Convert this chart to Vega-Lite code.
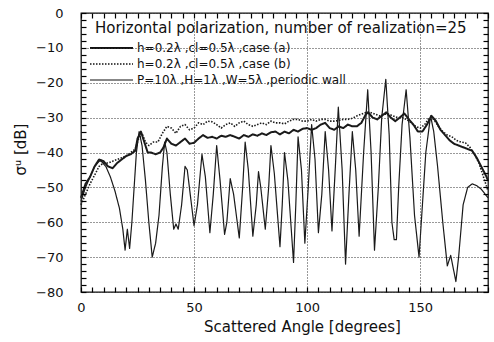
{
"$schema": "https://vega.github.io/schema/vega-lite/v6.json",
"width": 407, "height": 279,
"autosize": "none",
"padding": {"left": 81, "top": 13, "right": 6, "bottom": 50},
"background": "white",
"config": {"font": "DejaVu Sans", "view": {"stroke": "#111", "strokeWidth": 1.3}, "axis": {"ticks": true, "tickColor": "#000", "tickOpacity": 1, "tickWidth": 1.2, "tickSize": 5, "tickCap": "butt"}},
"data": {"values": [
{"x":0,"y":-54,"s":"p"},{"x":2,"y":-50,"s":"p"},{"x":4,"y":-47,"s":"p"},{"x":6,"y":-44,"s":"p"},{"x":8,"y":-42.5,"s":"p"},{"x":9,"y":-42.5,"s":"p"},{"x":11,"y":-44,"s":"p"},{"x":13,"y":-47,"s":"p"},{"x":15,"y":-51,"s":"p"},{"x":17,"y":-56,"s":"p"},{"x":18.5,"y":-62,"s":"p"},{"x":19.5,"y":-68,"s":"p"},{"x":20.5,"y":-62,"s":"p"},{"x":21.5,"y":-67.5,"s":"p"},{"x":22.5,"y":-60,"s":"p"},{"x":23.5,"y":-50,"s":"p"},{"x":24.5,"y":-40,"s":"p"},{"x":25.7,"y":-34,"s":"p"},{"x":27,"y":-38,"s":"p"},{"x":28.5,"y":-48,"s":"p"},{"x":30,"y":-60,"s":"p"},{"x":31.5,"y":-70,"s":"p"},{"x":33,"y":-66,"s":"p"},{"x":34.5,"y":-58,"s":"p"},{"x":36,"y":-44,"s":"p"},{"x":37,"y":-37,"s":"p"},{"x":38,"y":-40,"s":"p"},{"x":39.5,"y":-52,"s":"p"},{"x":41,"y":-62,"s":"p"},{"x":42,"y":-60.5,"s":"p"},{"x":43,"y":-62,"s":"p"},{"x":44.5,"y":-55,"s":"p"},{"x":46,"y":-44,"s":"p"},{"x":47,"y":-45,"s":"p"},{"x":48.5,"y":-53,"s":"p"},{"x":50,"y":-61,"s":"p"},{"x":51.5,"y":-55,"s":"p"},{"x":53.5,"y":-40.5,"s":"p"},{"x":55,"y":-47,"s":"p"},{"x":57,"y":-63,"s":"p"},{"x":58.5,"y":-52,"s":"p"},{"x":60,"y":-38,"s":"p"},{"x":61.5,"y":-48,"s":"p"},{"x":63.5,"y":-63.5,"s":"p"},{"x":64.5,"y":-60,"s":"p"},{"x":66,"y":-47.5,"s":"p"},{"x":67.5,"y":-52,"s":"p"},{"x":70,"y":-64.5,"s":"p"},{"x":71.5,"y":-50,"s":"p"},{"x":72.6,"y":-37,"s":"p"},{"x":74,"y":-45,"s":"p"},{"x":76,"y":-64,"s":"p"},{"x":77.5,"y":-55,"s":"p"},{"x":78.5,"y":-45.5,"s":"p"},{"x":79.5,"y":-50,"s":"p"},{"x":81.5,"y":-62,"s":"p"},{"x":83,"y":-50,"s":"p"},{"x":84,"y":-38,"s":"p"},{"x":85.5,"y":-46,"s":"p"},{"x":88,"y":-67,"s":"p"},{"x":89,"y":-55,"s":"p"},{"x":90,"y":-40,"s":"p"},{"x":91.5,"y":-48,"s":"p"},{"x":94,"y":-71.5,"s":"p"},{"x":95,"y":-55,"s":"p"},{"x":96,"y":-35.5,"s":"p"},{"x":97.5,"y":-45,"s":"p"},{"x":99,"y":-66,"s":"p"},{"x":100.5,"y":-50,"s":"p"},{"x":102,"y":-32,"s":"p"},{"x":103.5,"y":-42,"s":"p"},{"x":105,"y":-63,"s":"p"},{"x":106.5,"y":-52,"s":"p"},{"x":108,"y":-34,"s":"p"},{"x":109.5,"y":-45,"s":"p"},{"x":111,"y":-62.5,"s":"p"},{"x":112.5,"y":-44,"s":"p"},{"x":113.8,"y":-27,"s":"p"},{"x":115.5,"y":-45,"s":"p"},{"x":117,"y":-72,"s":"p"},{"x":118.5,"y":-52,"s":"p"},{"x":120,"y":-34,"s":"p"},{"x":121.5,"y":-45,"s":"p"},{"x":123,"y":-64,"s":"p"},{"x":125,"y":-40,"s":"p"},{"x":126.8,"y":-22,"s":"p"},{"x":128.3,"y":-40,"s":"p"},{"x":129.8,"y":-68,"s":"p"},{"x":131.5,"y":-50,"s":"p"},{"x":133,"y":-30,"s":"p"},{"x":134.8,"y":-19,"s":"p"},{"x":136.3,"y":-35,"s":"p"},{"x":137.5,"y":-60,"s":"p"},{"x":138.5,"y":-65,"s":"p"},{"x":139.5,"y":-65,"s":"p"},{"x":140.5,"y":-50,"s":"p"},{"x":142,"y":-32,"s":"p"},{"x":143.8,"y":-22,"s":"p"},{"x":145.5,"y":-36,"s":"p"},{"x":147.5,"y":-58,"s":"p"},{"x":149.5,"y":-70,"s":"p"},{"x":151,"y":-55,"s":"p"},{"x":152.5,"y":-40,"s":"p"},{"x":154.6,"y":-29.5,"s":"p"},{"x":156,"y":-34,"s":"p"},{"x":157.7,"y":-44,"s":"p"},{"x":160,"y":-60,"s":"p"},{"x":162,"y":-72.5,"s":"p"},{"x":163.5,"y":-69.5,"s":"p"},{"x":165.8,"y":-77,"s":"p"},{"x":167,"y":-70,"s":"p"},{"x":169,"y":-55,"s":"p"},{"x":171,"y":-50,"s":"p"},{"x":173,"y":-49,"s":"p"},{"x":175,"y":-49.5,"s":"p"},{"x":177,"y":-50.5,"s":"p"},{"x":180,"y":-53,"s":"p"},
{"x":0,"y":-53,"s":"a"},{"x":2,"y":-49,"s":"a"},{"x":4,"y":-47,"s":"a"},{"x":6,"y":-44,"s":"a"},{"x":8,"y":-42,"s":"a"},{"x":10,"y":-42.5,"s":"a"},{"x":12,"y":-44,"s":"a"},{"x":14,"y":-44.5,"s":"a"},{"x":16,"y":-43,"s":"a"},{"x":18,"y":-42,"s":"a"},{"x":20,"y":-41,"s":"a"},{"x":22,"y":-40.5,"s":"a"},{"x":24,"y":-39.5,"s":"a"},{"x":25,"y":-36,"s":"a"},{"x":26.5,"y":-34,"s":"a"},{"x":28,"y":-37,"s":"a"},{"x":29.5,"y":-40,"s":"a"},{"x":31,"y":-40,"s":"a"},{"x":33,"y":-40.5,"s":"a"},{"x":35,"y":-40,"s":"a"},{"x":36.5,"y":-38.5,"s":"a"},{"x":38,"y":-36,"s":"a"},{"x":40,"y":-37.5,"s":"a"},{"x":42,"y":-38,"s":"a"},{"x":44,"y":-37,"s":"a"},{"x":46,"y":-36,"s":"a"},{"x":48,"y":-37.5,"s":"a"},{"x":50,"y":-37.2,"s":"a"},{"x":52,"y":-36,"s":"a"},{"x":54,"y":-35,"s":"a"},{"x":56,"y":-35.8,"s":"a"},{"x":58,"y":-35.5,"s":"a"},{"x":60,"y":-36,"s":"a"},{"x":62,"y":-35.2,"s":"a"},{"x":64,"y":-35.5,"s":"a"},{"x":66,"y":-35,"s":"a"},{"x":68,"y":-35.5,"s":"a"},{"x":70,"y":-36,"s":"a"},{"x":72,"y":-35,"s":"a"},{"x":74,"y":-35.5,"s":"a"},{"x":76,"y":-34.8,"s":"a"},{"x":78,"y":-35.2,"s":"a"},{"x":80,"y":-34.5,"s":"a"},{"x":82,"y":-35,"s":"a"},{"x":84,"y":-34.2,"s":"a"},{"x":86,"y":-34,"s":"a"},{"x":88,"y":-34.8,"s":"a"},{"x":90,"y":-34,"s":"a"},{"x":92,"y":-34.5,"s":"a"},{"x":94,"y":-33.5,"s":"a"},{"x":96,"y":-34,"s":"a"},{"x":98,"y":-33.2,"s":"a"},{"x":100,"y":-33,"s":"a"},{"x":102,"y":-33.5,"s":"a"},{"x":104,"y":-33,"s":"a"},{"x":106,"y":-32,"s":"a"},{"x":108,"y":-31.5,"s":"a"},{"x":110,"y":-33,"s":"a"},{"x":112,"y":-33.5,"s":"a"},{"x":114,"y":-32.5,"s":"a"},{"x":116,"y":-33,"s":"a"},{"x":118,"y":-32,"s":"a"},{"x":120,"y":-32.5,"s":"a"},{"x":122,"y":-32.5,"s":"a"},{"x":124,"y":-31.5,"s":"a"},{"x":126,"y":-29,"s":"a"},{"x":127,"y":-28.5,"s":"a"},{"x":129,"y":-30,"s":"a"},{"x":131,"y":-30.5,"s":"a"},{"x":133,"y":-29.5,"s":"a"},{"x":135,"y":-28.5,"s":"a"},{"x":137,"y":-30,"s":"a"},{"x":139,"y":-31,"s":"a"},{"x":141,"y":-30,"s":"a"},{"x":143,"y":-28.8,"s":"a"},{"x":145,"y":-30.5,"s":"a"},{"x":147,"y":-32,"s":"a"},{"x":149,"y":-34,"s":"a"},{"x":151,"y":-34,"s":"a"},{"x":153,"y":-32,"s":"a"},{"x":155,"y":-29.5,"s":"a"},{"x":157,"y":-31,"s":"a"},{"x":159,"y":-33.5,"s":"a"},{"x":161,"y":-35,"s":"a"},{"x":163,"y":-36.5,"s":"a"},{"x":165,"y":-37.5,"s":"a"},{"x":167,"y":-38,"s":"a"},{"x":169,"y":-38.5,"s":"a"},{"x":171,"y":-39,"s":"a"},{"x":173,"y":-39.5,"s":"a"},{"x":175,"y":-41.5,"s":"a"},{"x":177,"y":-44,"s":"a"},{"x":179,"y":-46.5,"s":"a"},{"x":180,"y":-48,"s":"a"},
{"x":0,"y":-55,"s":"b"},{"x":2,"y":-52,"s":"b"},{"x":4,"y":-49,"s":"b"},{"x":6,"y":-46.5,"s":"b"},{"x":8,"y":-44,"s":"b"},{"x":10,"y":-43,"s":"b"},{"x":12,"y":-43,"s":"b"},{"x":14,"y":-42.5,"s":"b"},{"x":16,"y":-42,"s":"b"},{"x":18,"y":-41.5,"s":"b"},{"x":20,"y":-41,"s":"b"},{"x":22,"y":-40,"s":"b"},{"x":24,"y":-39,"s":"b"},{"x":25.5,"y":-36,"s":"b"},{"x":27,"y":-34.5,"s":"b"},{"x":28.5,"y":-37,"s":"b"},{"x":30,"y":-38,"s":"b"},{"x":32,"y":-37,"s":"b"},{"x":34,"y":-37,"s":"b"},{"x":36,"y":-34.5,"s":"b"},{"x":38,"y":-32.5,"s":"b"},{"x":40,"y":-33,"s":"b"},{"x":42,"y":-34.5,"s":"b"},{"x":44,"y":-32.5,"s":"b"},{"x":46,"y":-32,"s":"b"},{"x":48,"y":-33.5,"s":"b"},{"x":50,"y":-33,"s":"b"},{"x":52,"y":-31.5,"s":"b"},{"x":54,"y":-32,"s":"b"},{"x":56,"y":-31,"s":"b"},{"x":58,"y":-31.2,"s":"b"},{"x":60,"y":-32,"s":"b"},{"x":62,"y":-33,"s":"b"},{"x":64,"y":-32,"s":"b"},{"x":66,"y":-31.5,"s":"b"},{"x":68,"y":-32.5,"s":"b"},{"x":70,"y":-31.5,"s":"b"},{"x":72,"y":-31,"s":"b"},{"x":74,"y":-32,"s":"b"},{"x":76,"y":-32.5,"s":"b"},{"x":78,"y":-32,"s":"b"},{"x":80,"y":-31.5,"s":"b"},{"x":82,"y":-32,"s":"b"},{"x":84,"y":-31,"s":"b"},{"x":86,"y":-31.5,"s":"b"},{"x":88,"y":-31.5,"s":"b"},{"x":90,"y":-31.8,"s":"b"},{"x":92,"y":-31,"s":"b"},{"x":94,"y":-30.5,"s":"b"},{"x":96,"y":-30.5,"s":"b"},{"x":98,"y":-31,"s":"b"},{"x":100,"y":-31,"s":"b"},{"x":102,"y":-30.5,"s":"b"},{"x":104,"y":-31,"s":"b"},{"x":106,"y":-30.5,"s":"b"},{"x":108,"y":-30.5,"s":"b"},{"x":110,"y":-31,"s":"b"},{"x":112,"y":-31,"s":"b"},{"x":114,"y":-30.8,"s":"b"},{"x":116,"y":-30.5,"s":"b"},{"x":118,"y":-30.5,"s":"b"},{"x":120,"y":-30.2,"s":"b"},{"x":122,"y":-29.5,"s":"b"},{"x":124,"y":-29,"s":"b"},{"x":126,"y":-28.5,"s":"b"},{"x":128,"y":-28.5,"s":"b"},{"x":130,"y":-29,"s":"b"},{"x":132,"y":-29.5,"s":"b"},{"x":134,"y":-29,"s":"b"},{"x":136,"y":-29,"s":"b"},{"x":138,"y":-29.5,"s":"b"},{"x":140,"y":-30,"s":"b"},{"x":142,"y":-30,"s":"b"},{"x":144,"y":-30.5,"s":"b"},{"x":146,"y":-31.5,"s":"b"},{"x":148,"y":-32.5,"s":"b"},{"x":150,"y":-33,"s":"b"},{"x":152,"y":-32,"s":"b"},{"x":154,"y":-30,"s":"b"},{"x":156,"y":-30.5,"s":"b"},{"x":158,"y":-32.5,"s":"b"},{"x":160,"y":-34,"s":"b"},{"x":162,"y":-35,"s":"b"},{"x":164,"y":-35.5,"s":"b"},{"x":166,"y":-36.5,"s":"b"},{"x":168,"y":-37,"s":"b"},{"x":170,"y":-37.2,"s":"b"},{"x":172,"y":-38.5,"s":"b"},{"x":174,"y":-40.5,"s":"b"},{"x":176,"y":-43,"s":"b"},{"x":178,"y":-47,"s":"b"},{"x":180,"y":-51,"s":"b"}
]},
"layer": [
{
"mark": {"type": "point", "opacity": 0},
"encoding": {
"x": {"field": "x", "type": "quantitative", "scale": {"domain": [0, 180], "nice": false, "zero": false},
"axis": {"orient": "top", "offset": -5, "values": [0,5,10,15,20,25,30,35,40,45,50,55,60,65,70,75,80,85,90,95,100,105,110,115,120,125,130,135,140,145,150,155,160,165,170,175,180], "labels": false, "domain": false, "grid": false, "title": null, "zindex": 2}},
"y": {"field": "y", "type": "quantitative", "scale": {"domain": [-80, 0], "nice": false, "zero": false},
"axis": {"orient": "right", "offset": -5, "values": [-80,-78,-76,-74,-72,-70,-68,-66,-64,-62,-60,-58,-56,-54,-52,-50,-48,-46,-44,-42,-40,-38,-36,-34,-32,-30,-28,-26,-24,-22,-20,-18,-16,-14,-12,-10,-8,-6,-4,-2,0], "labels": false, "domain": false, "grid": false, "title": null, "zindex": 2}}
}
},
{
"mark": {"type": "line", "color": "#1a1a1a", "strokeJoin": "round"},
"encoding": {
"x": {"field": "x", "type": "quantitative", "scale": {"domain": [0, 180], "nice": false, "zero": false},
"axis": {"orient": "bottom", "offset": -5, "values": [0,5,10,15,20,25,30,35,40,45,50,55,60,65,70,75,80,85,90,95,100,105,110,115,120,125,130,135,140,145,150,155,160,165,170,175,180], "labelExpr": "datum.value % 50 === 0 ? datum.label : ''", "labelFlush": false, "labelFontSize": 13, "labelColor": "#111", "labelPadding": 9, "domain": false, "zindex": 1, "grid": true, "gridColor": "#333", "gridDash": [1, 2], "gridWidth": 1, "gridOpacity": {"condition": {"test": "datum.value % 50 === 0", "value": 1}, "value": 0}, "title": "Scattered Angle [degrees]", "titleFontSize": 15, "titleFontWeight": "normal", "titleColor": "#111", "titleX": 221, "titleY": 39, "titleBaseline": "middle"}},
"y": {"field": "y", "type": "quantitative", "scale": {"domain": [-80, 0], "nice": false, "zero": false},
"axis": {"orient": "left", "offset": -5, "values": [-80,-78,-76,-74,-72,-70,-68,-66,-64,-62,-60,-58,-56,-54,-52,-50,-48,-46,-44,-42,-40,-38,-36,-34,-32,-30,-28,-26,-24,-22,-20,-18,-16,-14,-12,-10,-8,-6,-4,-2,0], "labelExpr": "datum.value % 10 === 0 ? datum.label : ''", "labelFlush": false, "labelFontSize": 13, "labelColor": "#111", "labelPadding": 18, "domain": false, "zindex": 1, "grid": true, "gridColor": "#333", "gridDash": [1, 2], "gridWidth": 1, "gridOpacity": {"condition": {"test": "datum.value % 10 === 0", "value": 1}, "value": 0}, "title": "σᵘ [dB]", "titleFontSize": 15, "titleFontWeight": "normal", "titleColor": "#111", "titleX": -66, "titleY": 136, "titleAngle": -90, "titleAlign": "center", "titleBaseline": "middle"}},
"strokeDash": {"field": "s", "type": "nominal", "scale": {"domain": ["a", "b", "p"], "range": [[1, 0], [1.5, 1.5], [1, 0]]},
"legend": {"orient": "none", "legendX": 14, "legendY": 8, "padding": 0, "title": "Horizontal polarization, number of realization=25", "titleFontSize": 15, "titleFontWeight": "normal", "titleColor": "#111", "titlePadding": 6, "titleLimit": 0, "symbolType": "M-2.2,0L6.4,0", "symbolSize": 100, "symbolStrokeColor": "#111", "labelFontSize": 12, "labelColor": "#111", "labelOffset": 30, "labelLimit": 0, "rowPadding": 4, "labelExpr": "datum.value === 'a' ? 'h=0.2λ ,cl=0.5λ ,case (a)' : datum.value === 'b' ? 'h=0.2λ ,cl=0.5λ ,case (b)' : 'P=10λ ,H=1λ ,W=5λ ,periodic wall'"}},
"strokeWidth": {"field": "s", "type": "nominal", "scale": {"domain": ["a", "b", "p"], "range": [2, 1.2, 1]},
"legend": {"orient": "none", "legendX": 14, "legendY": 8, "padding": 0, "title": "Horizontal polarization, number of realization=25", "titleFontSize": 15, "titleFontWeight": "normal", "titleColor": "#111", "titlePadding": 6, "titleLimit": 0, "symbolType": "M-2.2,0L6.4,0", "symbolSize": 100, "symbolStrokeColor": "#111", "labelFontSize": 12, "labelColor": "#111", "labelOffset": 30, "labelLimit": 0, "rowPadding": 4, "labelExpr": "datum.value === 'a' ? 'h=0.2λ ,cl=0.5λ ,case (a)' : datum.value === 'b' ? 'h=0.2λ ,cl=0.5λ ,case (b)' : 'P=10λ ,H=1λ ,W=5λ ,periodic wall'"}}
}
}
],
"resolve": {"axis": {"x": "independent", "y": "independent"}}
}
